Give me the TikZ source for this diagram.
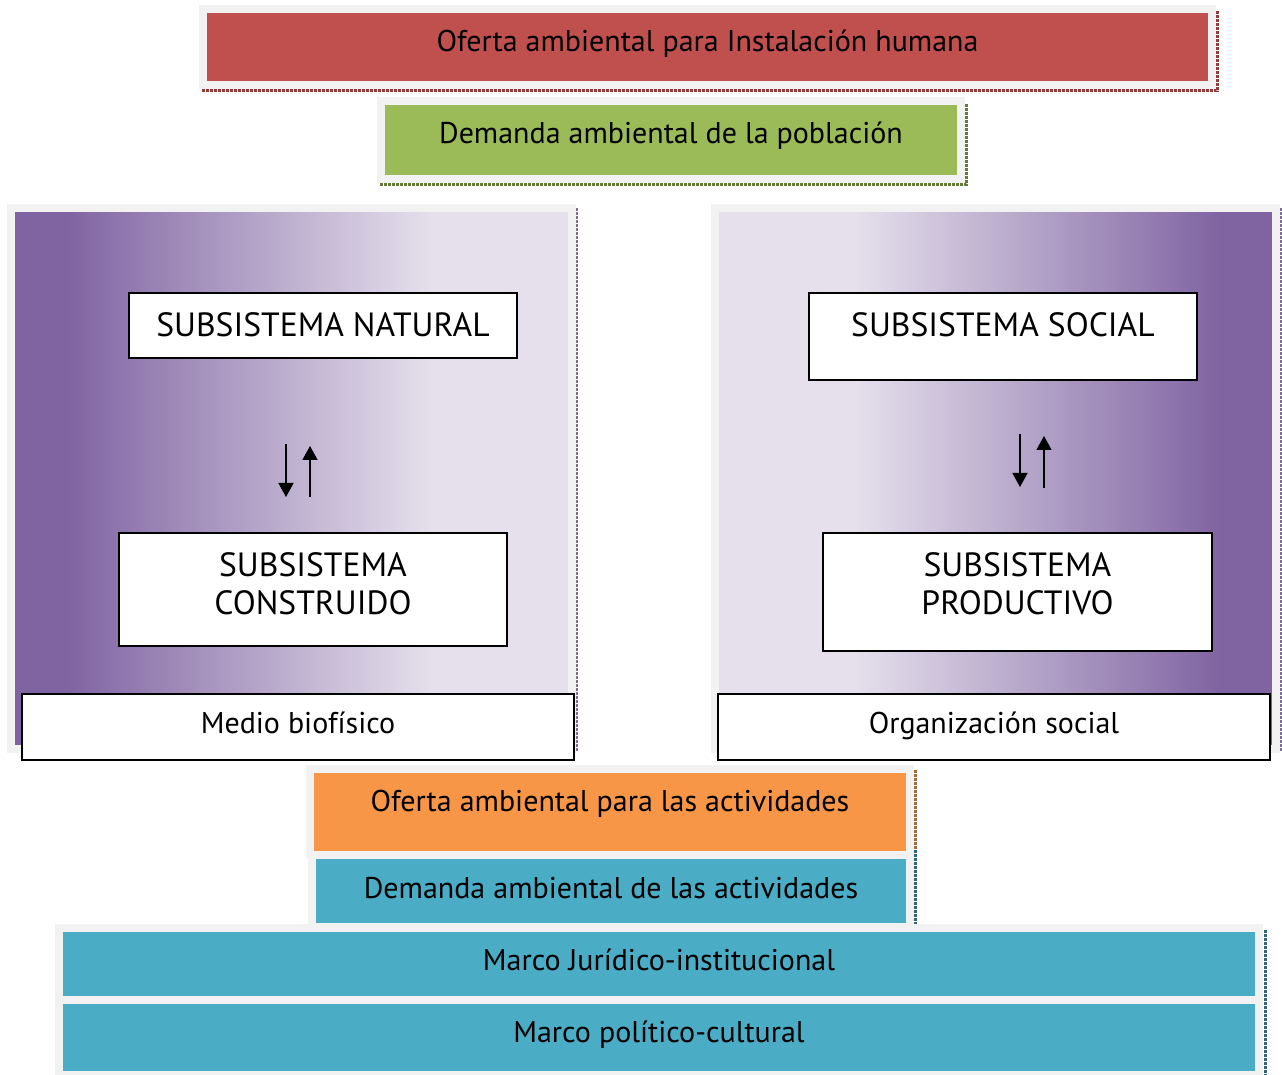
\documentclass[tikz,border=0pt]{standalone}
\usepackage{fontspec}
\setmainfont{PT Sans}
\usetikzlibrary{arrows.meta}

\definecolor{rojo}{HTML}{C0504D}
\definecolor{verde}{HTML}{9BBB59}
\definecolor{naranja}{HTML}{F79646}
\definecolor{azul}{HTML}{4BACC6}
\definecolor{morado}{HTML}{8064A2}
\definecolor{lila}{HTML}{E5E0EC}
\definecolor{marco}{HTML}{F2F2F2}

\pgfdeclarehorizontalshading{medioL}{100bp}{color(0bp)=(morado); color(30bp)=(morado); color(62.5bp)=(lila); color(100bp)=(lila)}
\pgfdeclarehorizontalshading{medioR}{100bp}{color(0bp)=(lila); color(37.5bp)=(lila); color(70bp)=(morado); color(100bp)=(morado)}

\begin{document}
\begin{tikzpicture}[x=0.5pt, y=-0.5pt, font=\fontsize{15}{18}\selectfont,
    barra/.style={draw=marco, line width=4pt, inner sep=0pt, text height=12pt, text depth=#1},
    barra/.default=1.5pt,
    panel/.style={draw=marco, line width=4pt, shade, shading=#1, minimum width=280.5pt, minimum height=270.5pt},
    caja/.style={draw=black, line width=0.9pt, fill=white, inner sep=0pt, align=center},
    mayus/.style={font=\fontsize{16.8}{19}\selectfont},
    sube/.style={-{Triangle[length=7pt,width=7.5pt]}, line width=0.7pt},
    sombra/.style={line width=1.5pt, dash pattern=on 1.5pt off 0.5pt, draw=#1}]
    \useasboundingbox (0,0) rectangle (1282,1075);

    \draw[sombra=rojo!75!black] (202,91) -- (1217,91) -- (1217,10);
    \draw[sombra=verde!65!black] (380,185) -- (966,185) -- (966,103);
    \draw[sombra=morado!60!gray] (8,751) -- (576,751) -- (576,208);
    \draw[sombra=morado!60!gray] (712,751) -- (1280,751) -- (1280,208);
    \draw[sombra=naranja!70!black] (915,770) -- (915,850);
    \draw[sombra=azul!60!black] (915,850) -- (915,925);
    \draw[sombra=azul!60!black] (1265,930) -- (1265,1075);

    \node[barra=7.5pt, fill=rojo, minimum width=504.5pt, minimum height=38pt] (ofertaH) at (707.5,47) {Oferta ambiental para Instalación humana};
    \node[barra=8.5pt, fill=verde, minimum width=290pt, minimum height=39pt] (demandaP) at (671,140) {Demanda ambiental de la población};

    \node[panel=medioL] (biofisico) at (291.5,478.5) {};
    \node[panel=medioR] (social) at (995,478.5) {};

    \node[caja, mayus, minimum width=194pt, minimum height=32.5pt, text height=12pt, text depth=0.5pt] (natural) at (323,325.5) {SUBSISTEMA NATURAL};
    \node[caja, mayus, minimum width=194pt, minimum height=56.5pt, text height=31pt, text depth=6pt] (construido) at (313,589.5) {SUBSISTEMA\\CONSTRUIDO};
    \node[caja, minimum width=276pt, minimum height=33pt, text height=12pt, text depth=5.5pt] (medio) at (298,727) {Medio biofísico};
    \node[caja, mayus, minimum width=194pt, minimum height=43.5pt, text height=12pt, text depth=12pt] (ssocial) at (1003,336.5) {SUBSISTEMA SOCIAL};
    \node[caja, mayus, minimum width=194.5pt, minimum height=59pt, text height=31pt, text depth=8.4pt] (productivo) at (1017.5,592) {SUBSISTEMA\\PRODUCTIVO};
    \node[caja, minimum width=276pt, minimum height=33pt, text height=12pt, text depth=5.5pt] (organizacion) at (994,727) {Organización social};

    \coordinate (nA) at (286,444);
    \coordinate (nB) at (286,497);
    \coordinate (nC) at (310,497);
    \coordinate (nD) at (310,446);
    \draw[sube] (nA) -- (nB);
    \draw[sube] (nC) -- (nD);
    \coordinate (sA) at (1020,434);
    \coordinate (sB) at (1020,487);
    \coordinate (sC) at (1044,488);
    \coordinate (sD) at (1044,436);
    \draw[sube] (sA) -- (sB);
    \draw[sube] (sC) -- (sD);

    \node[barra=12.5pt, fill=naranja, minimum width=300pt, minimum height=43pt] (ofertaA) at (610,812) {Oferta ambiental para las actividades};
    \node[barra=4.5pt, fill=azul, minimum width=299pt, minimum height=36pt] (demandaA) at (611,891) {Demanda ambiental de las actividades};
    \node[barra=5.5pt, fill=azul, minimum width=600pt, minimum height=36pt] (juridico) at (659,964) {Marco Jurídico-institucional};
    \node[barra=7pt, fill=azul, minimum width=600pt, minimum height=37.5pt] (politico) at (659,1037.5) {Marco político-cultural};
\end{tikzpicture}
\end{document}
